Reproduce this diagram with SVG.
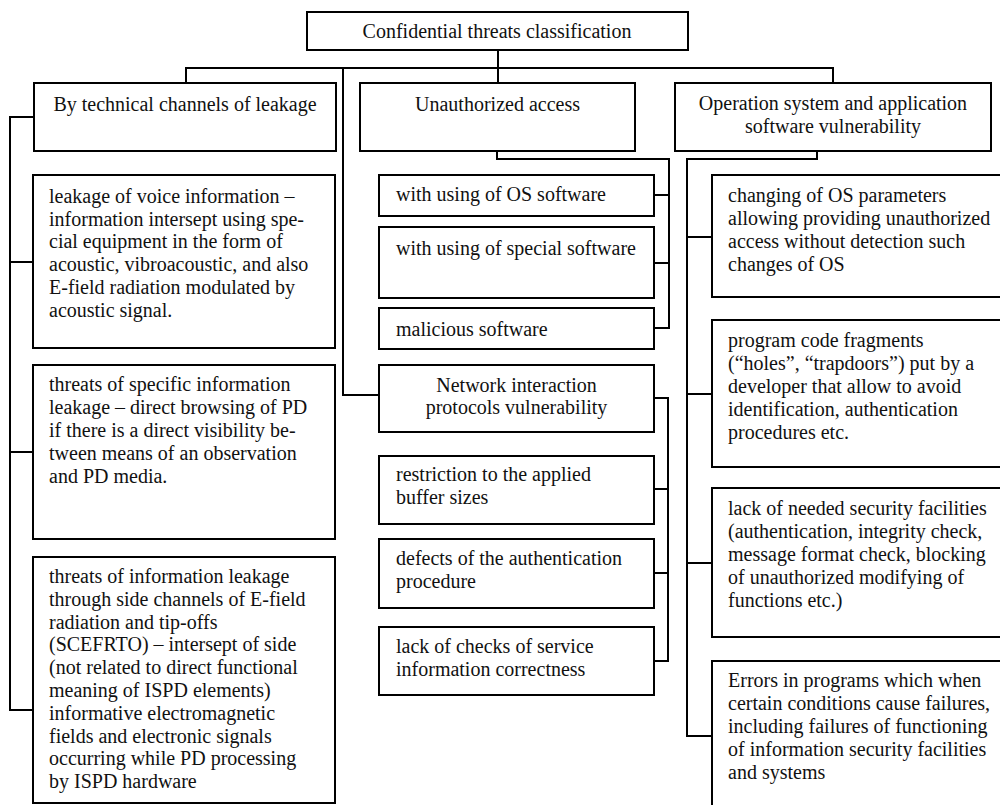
<svg xmlns="http://www.w3.org/2000/svg" width="1000" height="805" viewBox="0 0 1000 805">
<style>
rect{fill:#fff;stroke:#000;stroke-width:2}
.c{fill:none;stroke:#000;stroke-width:2}
text{font-family:"Liberation Serif","Times New Roman",serif;font-size:20px;fill:#111}
.m{text-anchor:middle}
</style>
<rect x="0" y="0" width="1000" height="805" style="stroke:none"/>
<g id="connectors">
<path class="c" d="M498,50V83M186,83V68H833V83M343,68V395H379"/>
<path class="c" d="M34,117H10V710H33M10,262H33M10,452H33"/>
<path class="c" d="M497,151V159H669V328H654M654,195H669M654,263H669"/>
<path class="c" d="M654,398H668V661H654M654,489H668M654,573H668"/>
<path class="c" d="M817,151V159H687V736H712M687,237H712M687,394H712M687,563H712"/>
</g>
<g id="root"><rect x="307" y="12" width="381" height="38"/><text class="m" x="497" y="38">Confidential threats classification</text></g>
<g id="technical"><rect x="34" y="83" width="302" height="68"/><text class="m" x="185" y="111">By technical channels of leakage</text></g>
<g id="unauthorized"><rect x="360" y="83" width="275" height="68"/><text class="m" x="497.5" y="111">Unauthorized access</text></g>
<g id="vulnerability"><rect x="675" y="83" width="316" height="68"/><text class="m" x="833" y="110">Operation system and application<tspan x="833" y="133">software vulnerability</tspan></text></g>
<g id="voice"><rect x="33" y="175" width="302" height="173"/><text x="49" y="203">leakage of voice information –<tspan x="49" y="226">information intersept using spe-</tspan><tspan x="49" y="248">cial equipment in the form of</tspan><tspan x="49" y="271">acoustic, vibroacoustic, and also</tspan><tspan x="49" y="294">E-field radiation modulated by</tspan><tspan x="49" y="317">acoustic signal.</tspan></text></g>
<g id="specific"><rect x="33" y="365" width="302" height="174"/><text x="49" y="391">threats of specific information<tspan x="49" y="414">leakage – direct browsing of PD</tspan><tspan x="49" y="437">if there is a direct visibility be-</tspan><tspan x="49" y="460">tween means of an observation</tspan><tspan x="49" y="483">and PD media.</tspan></text></g>
<g id="scefrto"><rect x="33" y="557" width="302" height="246"/><text x="49" y="583">threats of information leakage<tspan x="49" y="606">through side channels of E-field</tspan><tspan x="49" y="629">radiation and tip-offs</tspan><tspan x="49" y="651">(SCEFRTO) – intersept of side</tspan><tspan x="49" y="674">(not related to direct functional</tspan><tspan x="49" y="697">meaning of ISPD elements)</tspan><tspan x="49" y="720">informative electromagnetic</tspan><tspan x="49" y="743">fields and electronic signals</tspan><tspan x="49" y="765">occurring while PD processing</tspan><tspan x="49" y="788">by ISPD hardware</tspan></text></g>
<g id="os-software"><rect x="379" y="175" width="275" height="41"/><text x="396" y="201">with using of OS software</text></g>
<g id="special-software"><rect x="379" y="227" width="275" height="71"/><text x="396" y="255">with using of special software</text></g>
<g id="malicious"><rect x="379" y="308" width="275" height="41"/><text x="396" y="336">malicious software</text></g>
<g id="network"><rect x="379" y="365" width="275" height="67"/><text class="m" x="516.5" y="392">Network interaction<tspan x="516.5" y="414">protocols vulnerability</tspan></text></g>
<g id="buffer"><rect x="379" y="456" width="275" height="68"/><text x="396" y="481">restriction to the applied<tspan x="396" y="504">buffer sizes</tspan></text></g>
<g id="authentication"><rect x="379" y="539" width="275" height="69"/><text x="396" y="565">defects of the authentication<tspan x="396" y="588">procedure</tspan></text></g>
<g id="service-info"><rect x="379" y="627" width="275" height="68"/><text x="396" y="653">lack of checks of service<tspan x="396" y="676">information correctness</tspan></text></g>
<g id="os-params"><rect x="712" y="175" width="291" height="122"/><text x="728" y="202">changing of OS parameters<tspan x="728" y="225">allowing providing unauthorized</tspan><tspan x="728" y="248">access without detection such</tspan><tspan x="728" y="271">changes of OS</tspan></text></g>
<g id="trapdoors"><rect x="712" y="320" width="291" height="147"/><text x="728" y="347">program code fragments<tspan x="728" y="370">(“holes”, “trapdoors”) put by a</tspan><tspan x="728" y="393">developer that allow to avoid</tspan><tspan x="728" y="416">identification, authentication</tspan><tspan x="728" y="439">procedures etc.</tspan></text></g>
<g id="security-facilities"><rect x="712" y="488" width="291" height="149"/><text x="728" y="515">lack of needed security facilities<tspan x="728" y="538">(authentication, integrity check,</tspan><tspan x="728" y="561">message format check, blocking</tspan><tspan x="728" y="584">of unauthorized modifying of</tspan><tspan x="728" y="607">functions etc.)</tspan></text></g>
<g id="errors"><rect x="712" y="661" width="291" height="150"/><text x="728" y="687">Errors in programs which when<tspan x="728" y="710">certain conditions cause failures,</tspan><tspan x="728" y="733">including failures of functioning</tspan><tspan x="728" y="756">of information security facilities</tspan><tspan x="728" y="779">and systems</tspan></text></g>
</svg>
